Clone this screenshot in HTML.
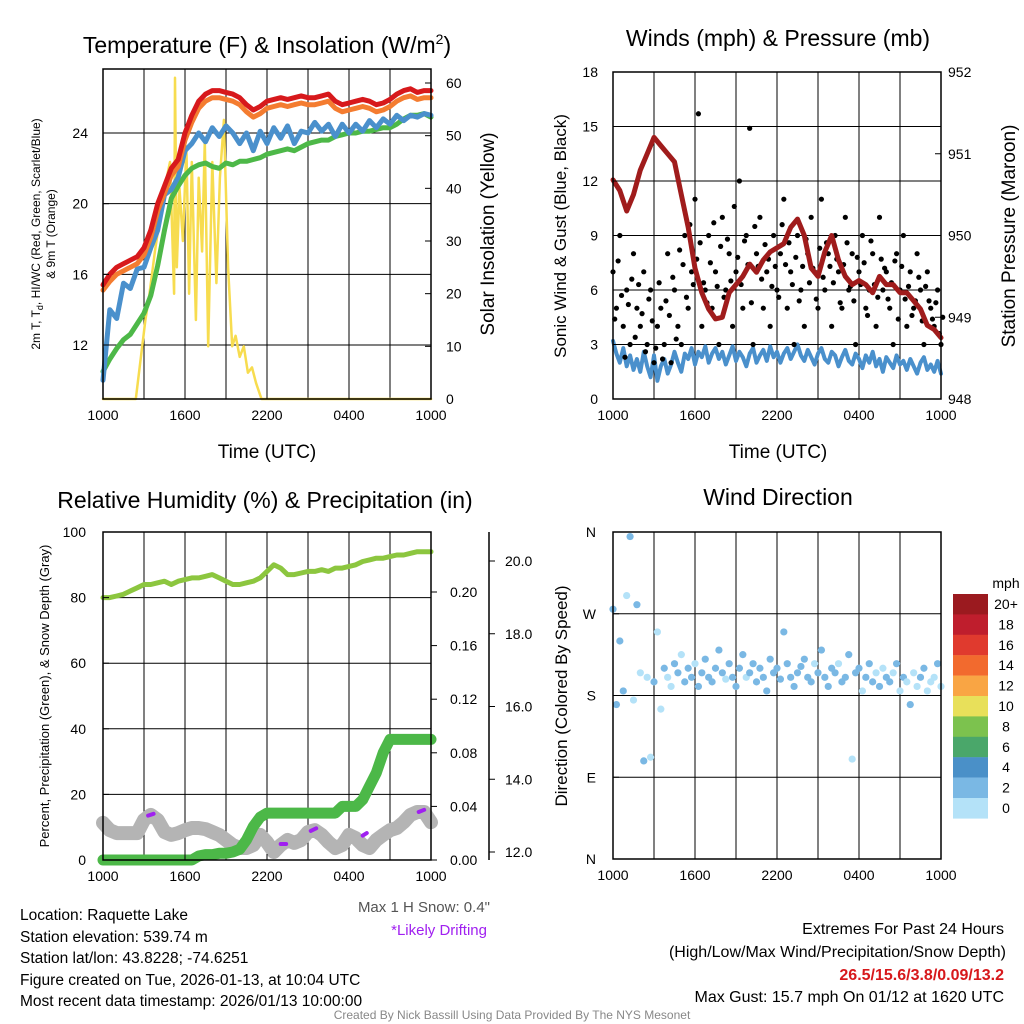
<!DOCTYPE html>
<html><head><meta charset="utf-8">
<style>
html,body{margin:0;padding:0;background:#fff;}
svg{display:block;font-family:"Liberation Sans",Arial,sans-serif;}
</style></head>
<body>
<svg id="fig" width="1024" height="1024" viewBox="0 0 1024 1024" xmlns="http://www.w3.org/2000/svg">
<rect x="0" y="0" width="1024" height="1024" fill="#fff"/>
<text x="267" y="53" font-size="23" text-anchor="middle">Temperature (F) &amp; Insolation (W/m<tspan dy="-9" font-size="14">2</tspan><tspan dy="9">)</tspan></text>
<text x="778" y="46" font-size="23" text-anchor="middle">Winds (mph) &amp; Pressure (mb)</text>
<text x="265" y="508" font-size="23" text-anchor="middle">Relative Humidity (%) &amp; Precipitation (in)</text>
<text x="778" y="505" font-size="23" text-anchor="middle">Wind Direction</text>
<text x="267" y="458" font-size="19" text-anchor="middle">Time (UTC)</text>
<text x="778" y="458" font-size="19" text-anchor="middle">Time (UTC)</text>
<text transform="translate(40,234) rotate(-90)" font-size="12" text-anchor="middle">2m T, T<tspan dy="3" font-size="9">d</tspan><tspan dy="-3">, HI/WC (Red, Green, Scarlet/Blue)</tspan></text>
<text transform="translate(55,234) rotate(-90)" font-size="12" text-anchor="middle">&amp; 9m T (Orange)</text>
<text transform="translate(494,234) rotate(-90)" font-size="19" text-anchor="middle">Solar Insolation (Yellow)</text>
<text transform="translate(566,236) rotate(-90)" font-size="17" text-anchor="middle">Sonic Wind &amp; Gust (Blue, Black)</text>
<text transform="translate(1015,236) rotate(-90)" font-size="19" text-anchor="middle">Station Pressure (Maroon)</text>
<text transform="translate(49,696) rotate(-90)" font-size="13" text-anchor="middle">Percent, Precipitation (Green), &amp; Snow Depth (Gray)</text>
<text transform="translate(567,696) rotate(-90)" font-size="17" text-anchor="middle">Direction (Colored By Speed)</text>
<g font-size="15.5">
<text x="20" y="920">Location: Raquette Lake</text>
<text x="20" y="942">Station elevation: 539.74 m</text>
<text x="20" y="963">Station lat/lon: 43.8228; -74.6251</text>
<text x="20" y="985">Figure created on Tue, 2026-01-13, at 10:04 UTC</text>
<text x="20" y="1006">Most recent data timestamp: 2026/01/13 10:00:00</text>
</g>
<text x="490" y="912" font-size="15" fill="#555" text-anchor="end">Max 1 H Snow: 0.4"</text>
<text x="487" y="935" font-size="15" fill="#a020f0" text-anchor="end">*Likely Drifting</text>
<g font-size="16" text-anchor="end">
<text x="1004" y="934">Extremes For Past 24 Hours</text>
<text x="1006" y="957">(High/Low/Max Wind/Precipitation/Snow Depth)</text>
<text x="1004" y="980" fill="#d7191c" font-weight="bold">26.5/15.6/3.8/0.09/13.2</text>
<text x="1004" y="1002">Max Gust: 15.7 mph On 01/12 at 1620 UTC</text>
</g>
<text x="512" y="1019" font-size="12" fill="#888" text-anchor="middle">Created By Nick Bassill Using Data Provided By The NYS Mesonet</text>
<g id="plots"></g>
</svg>
<script>
const xTickLabels = ["1000","1600","2200","0400","1000"];
const halfHours = [0,0.5,1,1.5,2,2.5,3,3.5,4,4.5,5,5.5,6,6.5,7,7.5,8,8.5,9,9.5,10,10.5,11,11.5,12,12.5,13,13.5,14,14.5,15,15.5,16,16.5,17,17.5,18,18.5,19,19.5,20,20.5,21,21.5,22,22.5,23,23.5,24];
const temp2m = [15.4,16.0,16.4,16.6,16.8,17.0,17.5,18.5,20.0,21.0,22.0,22.5,24.0,25.0,25.8,26.2,26.4,26.4,26.3,26.2,26.0,25.6,25.3,25.5,25.8,25.9,26.0,25.9,26.0,26.1,26.0,26.0,26.1,26.2,25.8,25.6,25.7,25.8,25.9,25.8,25.6,25.7,25.9,26.2,26.4,26.5,26.3,26.4,26.4];
const temp9m = [15.1,15.6,16.0,16.2,16.4,16.6,17.1,18.1,19.6,20.6,21.6,22.1,23.6,24.6,25.4,25.8,26.0,26.0,25.9,25.8,25.6,25.2,24.9,25.1,25.4,25.5,25.6,25.5,25.6,25.7,25.6,25.6,25.7,25.8,25.4,25.2,25.3,25.4,25.5,25.4,25.2,25.3,25.5,25.8,26.0,26.1,25.9,26.0,26.0];
const dewpoint = [10.5,11.2,11.8,12.3,12.6,13.2,13.8,14.8,16.5,18.5,20.3,21.0,21.6,22.0,22.2,22.3,22.1,22.0,22.3,22.2,22.4,22.4,22.5,22.6,22.8,22.9,23.0,23.1,23.0,23.2,23.4,23.5,23.6,23.6,23.8,23.9,24.0,24.0,24.1,24.1,24.2,24.3,24.3,24.5,24.8,25.0,25.0,25.1,24.9];
const windChill = [10.0,14.0,13.5,15.5,15.2,16.3,16.4,17.5,18.5,20.5,20.8,21.5,23.0,23.4,24.0,23.5,24.3,23.8,24.4,24.0,23.4,24.0,23.0,24.1,23.4,24.3,23.7,24.4,23.4,24.1,24.0,24.6,24.1,24.5,23.8,24.5,24.0,24.5,24.1,24.7,24.3,24.8,24.5,25.0,24.7,25.0,24.9,25.1,25.0];
const solarHours = [0,2.4,3.1,3.4,3.8,4.2,4.5,4.9,5.2,5.27,5.4,5.6,5.85,6.1,6.3,6.5,6.8,7.0,7.25,7.45,7.7,8.0,8.3,8.55,8.85,9.15,9.45,9.7,10.0,10.3,10.6,10.9,11.2,11.6,24];
const solar = [0,0,15,20,28,35,40,45,20,61,25,40,30,48,20,45,15,42,28,49,10,45,22,42,53,25,10,12,8,10,5,6,3,0,0];
const quarterHours = Array.from({length:97},(_,i)=>i*0.25);
const gust = [7,5,9,4,6,3,8,5,4,7,3,6,2,4,5,3,8,2,6,4,3,9,5,7,11,15.7,4,6,9,5,7,3,10,6,8,4,7,12,5,9,14.9,3,8,10,5,7,4,9,6,8,11,5,7,3,9,6,4,8,10,7,5,11,6,8,4,9,7,5,10,6,8,3,7,9,5,6,8,4,10,6,7,5,3,8,6,9,4,7,5,8,6,3,7,5,4,6,3];
const gust2 = [4.4,7.6,5.7,2.3,5.2,6.6,3.4,6.3,4.7,2.6,5.5,4.3,2.8,6.4,2.2,5.4,4.6,6.7,3.3,8.2,7.4,5.6,9.6,6.3,7.7,8.6,6.4,5.3,7.5,9.7,6.2,8.4,5.6,8.8,6.5,10.6,7.8,6.3,8.7,7.4,5.3,9.5,7.3,6.6,8.5,7.7,6.2,7.3,5.6,9.6,7.4,8.6,6.3,7.8,5.4,7.3,8.8,6.4,7.2,5.5,8.3,6.7,8.6,7.3,6.4,7.7,5.3,7.4,8.6,6.2,5.4,7.8,6.3,7.5,4.6,8.7,6.3,5.6,7.7,7.2,5.5,6.4,7.6,4.4,7.3,5.5,6.2,4.6,5.4,6.7,4.3,6.2,5.4,4.4,5.3,3.6,4.5];
const wind = [3.2,2.5,2.0,2.8,1.8,2.4,1.6,2.2,1.5,2.6,1.8,1.2,2.4,1.0,1.8,2.2,1.4,1.9,2.6,2.0,1.5,2.5,2.2,2.8,1.9,2.6,2.3,2.9,2.0,2.5,2.8,2.2,2.6,1.9,2.4,2.9,2.1,2.6,2.3,1.8,2.5,2.8,2.0,2.4,2.7,2.1,2.9,2.3,2.6,2.0,2.5,2.8,2.2,2.6,3.0,2.4,2.1,2.7,2.3,1.9,2.5,2.8,2.2,2.0,2.6,2.4,1.8,2.3,2.7,2.1,1.9,2.5,2.2,1.7,2.4,2.0,2.6,1.8,2.2,1.5,2.3,2.0,1.7,2.4,1.9,2.1,1.6,2.2,1.8,1.4,2.0,2.3,1.6,1.9,1.5,2.1,1.4];
const pressure = [950.68,950.55,950.3,950.5,950.8,951.0,951.2,951.1,951.0,950.9,950.5,950.1,949.6,949.3,949.1,948.98,949.0,949.3,949.4,949.5,949.65,949.55,949.7,949.8,949.85,949.9,950.1,950.2,950.0,949.6,949.5,949.8,950.0,949.7,949.5,949.4,949.45,949.4,949.3,949.5,949.4,949.4,949.3,949.3,949.2,949.1,948.9,948.85,948.75];
const direction = [275,170,240,185,290,355,175,280,205,108,200,112,195,250,165,210,200,190,215,205,225,195,210,200,215,190,205,220,200,195,210,230,205,198,215,200,190,210,225,200,205,215,195,210,200,185,220,205,210,198,250,215,200,190,205,212,220,200,195,215,205,230,200,190,210,205,215,195,200,225,110,205,210,185,200,215,195,205,190,210,200,195,205,215,185,200,195,170,205,190,200,210,185,195,200,215,190];
const rh = [80,80,80.5,81,82,83,84,84,84.5,85,84,85,85.5,86,86,86.5,87,86,85,84,84,84.5,85,86,88,90,89,87,87,87.5,88,88,88.5,88,89,89,89.5,90,91,91.5,92,92,92.5,93,93,93.5,94,94,94];
const precip = [0,0,0,0,0,0,0,0,0,0,0,0,0,0,0.003,0.004,0.004,0.005,0.005,0.006,0.008,0.015,0.025,0.032,0.035,0.035,0.035,0.035,0.035,0.035,0.035,0.035,0.035,0.035,0.035,0.04,0.04,0.04,0.045,0.055,0.065,0.08,0.09,0.09,0.09,0.09,0.09,0.09,0.09];
const snow = [12.80,12.60,12.52,12.52,12.52,12.52,12.88,13.02,12.88,12.55,12.47,12.52,12.60,12.66,12.66,12.63,12.55,12.47,12.33,12.19,12.11,12.11,12.19,12.47,12.27,12.0,12.19,12.33,12.25,12.33,12.55,12.60,12.47,12.27,12.11,12.19,12.47,12.38,12.19,12.11,12.33,12.47,12.60,12.66,12.82,13.02,13.10,13.10,12.82];
const driftStart = [3.3,13.0,15.2,19.0,23.1];
const driftEnd = [3.7,13.4,15.6,19.3,23.5];
const driftSnowStart = [13.0,12.22,12.58,12.45,13.10];
const driftSnowEnd = [13.05,12.22,12.65,12.52,13.16];
const speedBins = ["20+","18","16","14","12","10","8","6","4","2","0"];
const speedColors = ["#9b1a1f","#bf1e2d","#e03a2e","#f26a2e","#f9a544","#e8e05a","#7cc24e","#4aa76a","#4a90c8","#7ab8e4","#b4e2f8"];

const NS = "http://www.w3.org/2000/svg";
const root = document.getElementById("plots");
function mk(tag, attrs, parent){
  const e = document.createElementNS(NS, tag);
  for (const k in attrs) e.setAttribute(k, attrs[k]);
  (parent||root).appendChild(e);
  return e;
}
function scale(d0,d1,r0,r1){ return v => r0 + (v-d0)/(d1-d0)*(r1-r0); }
function pathD(xs, ys, fx, fy){ return xs.map((x,i)=>(i?"L":"M")+fx(x).toFixed(1)+","+fy(ys[i]).toFixed(1)).join(""); }
function frame(x0,y0,x1,y1,name){
  const g = mk("g",{});
  
  
  return g;
}
function grid(g,x0,y0,x1,y1,fx,fyTicks){
  for (let h=3; h<24; h+=3){
    const l = mk("line",{x1:fx(h),x2:fx(h),y1:y0,y2:y1,stroke:"#000","stroke-width":1},g);
    
    
  }
  fyTicks.forEach(y=>{
    const l = mk("line",{x1:x0,x2:x1,y1:y,y2:y,stroke:"#000","stroke-width":1},g);
    
    
  });
}
function border(g,x0,y0,x1,y1){
  const r = mk("rect",{x:x0,y:y0,width:x1-x0,height:y1-y0,fill:"none",stroke:"#000","stroke-width":1.5},g);
  
  
}
function xAxis(g,fx,y1){
  xTickLabels.forEach((lab,i)=>{
    const h = i*6;
    const t = mk("text",{x:fx(h),y:y1+21,"font-size":14,"text-anchor":"middle"},g);
    t.textContent = lab;
    
    
    const tk = mk("line",{x1:fx(h),x2:fx(h),y1:y1,y2:y1-6,stroke:"#000","stroke-width":1},g);
    
    
  });
}
function yLabels(g,vals,labels,fy,x,anchor,tickX,dir){
  vals.forEach((v,i)=>{
    const t = mk("text",{x:x,y:fy(v)+5,"font-size":14,"text-anchor":anchor},g);
    t.textContent = labels[i];
    
    
    const tk = mk("line",{x1:tickX,x2:tickX+dir*6,y1:fy(v),y2:fy(v),stroke:"#000","stroke-width":1},g);
    
    
  });
}
function line(g,xs,ys,fx,fy,color,w,name){
  const p = mk("path",{d:pathD(xs,ys,fx,fy),fill:"none",stroke:color,"stroke-width":w,"stroke-linejoin":"round","stroke-linecap":"round"},g);
  
  
  return p;
}

{
  const X0=103,Y0=69,X1=431,Y1=399;
  const g = frame(X0,Y0,X1,Y1,"temperature-panel");
  const fx = scale(0,24,X0,X1);
  const fy = scale(12,24,345,133);
  const fs = scale(0,60,399,83);
  const tv=[12,16,20,24];
  grid(g,X0,Y0,X1,Y1,fx,tv.map(fy));
  line(g,solarHours,solar,fx,fs,"#f7dc4f",2.5,"solar-insolation-line");
  line(g,halfHours,dewpoint,fx,fy,"#4db848",5,"dewpoint-line");
  line(g,halfHours,windChill,fx,fy,"#4a90cc",5,"wind-chill-line");
  line(g,halfHours,temp9m,fx,fy,"#f47c30",5,"temp-9m-line");
  line(g,halfHours,temp2m,fx,fy,"#d7191c",5,"temp-2m-line");
  border(g,X0,Y0,X1,Y1);
  xAxis(g,fx,Y1);
  yLabels(g,tv,tv.map(String),fy,88,"end",X0,1);
  const sv=[0,10,20,30,40,50,60];
  yLabels(g,sv,sv.map(String),fs,446,"start",X1,-1);
}
{
  const X0=613,Y0=72,X1=941,Y1=399;
  const g = frame(X0,Y0,X1,Y1,"winds-panel");
  const fx = scale(0,24,X0,X1);
  const fy = scale(0,18,399,72);
  const fp = scale(948,952,399,72);
  const tv=[0,3,6,9,12,15,18];
  grid(g,X0,Y0,X1,Y1,fx,[3,6,9,12,15].map(fy));
  line(g,quarterHours,wind,fx,fy,"#4a90cc",4,"sustained-wind-line");
  [gust,gust2].forEach((arr,k)=>{
    arr.forEach((v,i)=>{
      const c = mk("circle",{cx:fx(quarterHours[i]+k*0.125),cy:fy(v),r:2.6,fill:"#000"},g);
      
      
    });
  });
  line(g,halfHours,pressure,fx,fp,"#a01c1c",5,"pressure-line");
  border(g,X0,Y0,X1,Y1);
  xAxis(g,fx,Y1);
  yLabels(g,tv,tv.map(String),fy,598,"end",X0,1);
  const pv=[948,949,950,951,952];
  yLabels(g,pv,pv.map(String),fp,948,"start",X1,-1);
}
{
  const X0=103,Y0=532,X1=431,Y1=860;
  const g = frame(X0,Y0,X1,Y1,"humidity-panel");
  const fx = scale(0,24,X0,X1);
  const fy = scale(0,100,860,532);
  const fpr = scale(0,0.2,860,592);
  const fsn = scale(12,20,852,561);
  const tv=[0,20,40,60,80,100];
  grid(g,X0,Y0,X1,Y1,fx,[20,40,60,80].map(fy));
  line(g,halfHours,snow,fx,fsn,"#b4b4b4",14,"snow-depth-line");
  driftStart.forEach((h,i)=>{
    const p = mk("line",{x1:fx(h),y1:fsn(driftSnowStart[i]),x2:fx(driftEnd[i]),y2:fsn(driftSnowEnd[i]),stroke:"#a020f0","stroke-width":4,"stroke-linecap":"round"},g);
    
    
  });
  line(g,halfHours,precip,fx,fpr,"#4cb848",11,"precipitation-line");
  line(g,halfHours,rh,fx,fy,"#8cc63f",5,"relative-humidity-line");
  border(g,X0,Y0,X1,Y1);
  xAxis(g,fx,Y1);
  yLabels(g,tv,tv.map(String),fy,86,"end",X0,1);
  const pv=[0,0.04,0.08,0.12,0.16,0.20];
  yLabels(g,pv,pv.map(v=>v.toFixed(2)),fpr,450,"start",X1,1);
  const ax = mk("line",{x1:489,x2:489,y1:532,y2:860,stroke:"#000","stroke-width":1.5},g);
  
  
  const sv=[12,14,16,18,20];
  yLabels(g,sv,sv.map(v=>v.toFixed(1)),fsn,505,"start",489,1);
}
{
  const X0=613,Y0=532,X1=941,Y1=859;
  const g = frame(X0,Y0,X1,Y1,"wind-direction-panel");
  const fx = scale(0,24,X0,X1);
  const fy = scale(0,360,859,532);
  grid(g,X0,Y0,X1,Y1,fx,[90,180,270].map(fy));
  direction.forEach((d,i)=>{
    const s = wind[i];
    const col = s<2 ? speedColors[10] : (s<4 ? speedColors[9] : speedColors[8]);
    const c = mk("circle",{cx:fx(quarterHours[i]),cy:fy(d),r:3.6,fill:col},g);
    
    
  });
  border(g,X0,Y0,X1,Y1);
  xAxis(g,fx,Y1);
  const dv=[0,90,180,270,360], dl=["N","E","S","W","N"];
  yLabels(g,dv,dl,fy,596,"end",X0,1);
  const lg = mk("g",{});
  
  
  const u = mk("text",{x:1006,y:588,"font-size":14,"text-anchor":"middle"},lg);
  u.textContent="mph";
  
  
  speedBins.forEach((b,i)=>{
    const r = mk("rect",{x:953,y:594+i*20.4,width:35,height:20.6,fill:speedColors[i]},lg);
    
    
    const t = mk("text",{x:1006,y:594+i*20.4+15,"font-size":14,"text-anchor":"middle"},lg);
    t.textContent=b;
    
    
  });
}
</script>
</body></html>
